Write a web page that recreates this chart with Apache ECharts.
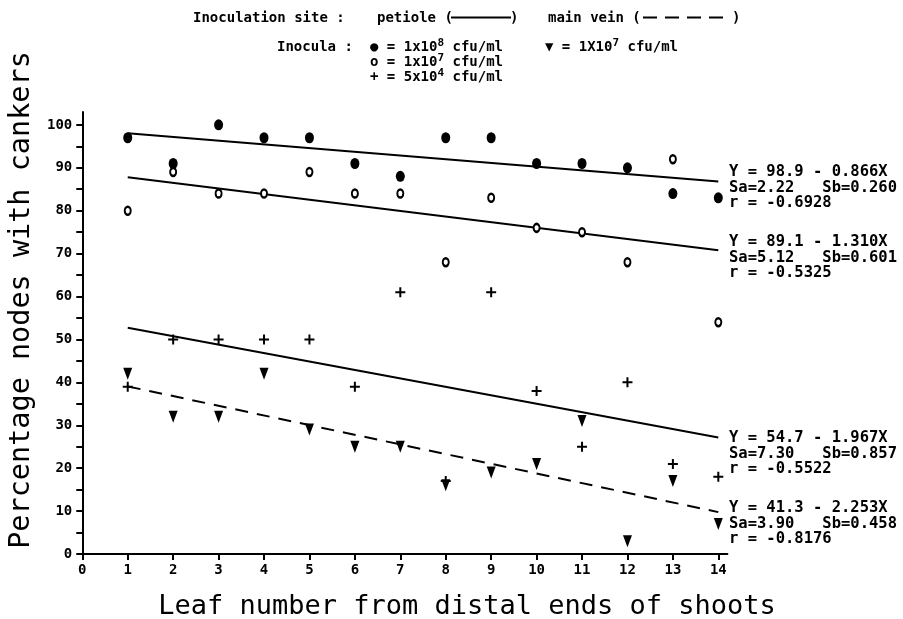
<!DOCTYPE html>
<html>
<head>
<meta charset="utf-8">
<script src="https://cdn.jsdelivr.net/npm/echarts@6/dist/echarts.min.js"></script>
<style>
html,body{margin:0;padding:0;background:#fff;}
#main{width:903px;height:619px;}
</style>
</head>
<body>
<div id="main"></div>
<script>
// ---- data ----
var leafNumbers = [1,2,3,4,5,6,7,8,9,10,11,12,13,14];
var petiole1e8 = [97,91,100,97,97,91,88,97,97,91,91,90,84,83];
var petiole1e7 = [80,89,84,84,89,84,84,68,83,76,75,68,92,54];
var petiole5e4 = [39,50,50,50,50,39,61,17,61,38,25,40,21,18];
var mainVein1e7 = [42,32,32,42,29,25,25,16,19,21,31,3,17,7];
// regression: [intercept, slope]
var fit1e8 = [98.9, -0.866];
var fit1e7 = [89.1, -1.310];
var fit5e4 = [54.7, -1.967];
var fitVein = [41.3, -2.253];
var fitText = [
  ['Y = 98.9 - 0.866X', 'Sa=2.22   Sb=0.260', 'r = -0.6928'],
  ['Y = 89.1 - 1.310X', 'Sa=5.12   Sb=0.601', 'r = -0.5325'],
  ['Y = 54.7 - 1.967X', 'Sa=7.30   Sb=0.857', 'r = -0.5522'],
  ['Y = 41.3 - 2.253X', 'Sa=3.90   Sb=0.458', 'r = -0.8176']
];
var xTicks = [0,1,2,3,4,5,6,7,8,9,10,11,12,13,14];
var yLabelTicks = [0,10,20,30,40,50,60,70,80,90,100];
var yMinorTicks = [0,5,10,15,20,25,30,35,40,45,50,55,60,65,70,75,80,85,90,95,100];

var MONO = "'DejaVu Sans Mono', monospace";

function pts(vals){ return leafNumbers.map(function(x,i){ return [x, vals[i]]; }); }
function fitLine(c){ var a = leafNumbers[0], b = leafNumbers[leafNumbers.length-1]; return [[a, c[0]+c[1]*a],[b, c[0]+c[1]*b]]; }

var chart = echarts.init(document.getElementById('main'));

var xBase = {
  type:'value', min:0, max:14.2, gridIndex:0,
  axisLine:{show:true, lineStyle:{color:'#000', width:2}},
  splitLine:{show:false}
};
var yBase = {
  type:'value', min:0, max:103, gridIndex:0,
  axisLine:{show:true, lineStyle:{color:'#000', width:2}},
  splitLine:{show:false}
};

var plusPath = 'path://M4,0h2v4h4v2h-4v4h-2v-4h-4v-2h4z';

function scatter(name, vals, symbol, size, style, rot){
  return {type:'scatter', name:name, data:pts(vals), symbol:symbol, symbolSize:size, symbolRotate:rot||0,
    itemStyle:Object.assign({opacity:1}, style), silent:true, z:5};
}

var option = {
  animation:false,
  backgroundColor:'#fff',
  grid:{left:82.3, right:175.6, top:112, bottom:65, containLabel:false},
  xAxis:[
    Object.assign({}, xBase, {
      axisTick:{show:true, inside:false, length:6, lineStyle:{color:'#000', width:2}, customValues:xTicks},
      axisLabel:{show:true, color:'#000', fontFamily:MONO, fontWeight:'bold', fontSize:14, margin:9,
        customValues:xTicks, formatter:function(v){ return (Math.abs(v-Math.round(v))<1e-6 && v<=14) ? String(v) : ''; }}
    }),
    Object.assign({}, xBase, {
      axisLine:{show:false},
      axisTick:{show:true, inside:true, length:6, lineStyle:{color:'#000', width:2}, customValues:xTicks.slice(1)},
      axisLabel:{show:false}
    })
  ],
  yAxis:[
    Object.assign({}, yBase, {
      axisTick:{show:true, inside:false, length:6, lineStyle:{color:'#000', width:2}, customValues:yMinorTicks},
      axisLabel:{show:true, color:'#000', fontFamily:MONO, fontWeight:'bold', fontSize:14, margin:10,
        customValues:yLabelTicks, formatter:function(v){ return (v%10===0 && v<=100) ? String(v) : ''; }}
    }),
    Object.assign({}, yBase, {
      axisLine:{show:false},
      axisTick:{show:true, inside:true, length:5, lineStyle:{color:'#000', width:2}, customValues:yMinorTicks.slice(1)},
      axisLabel:{show:false}
    })
  ],
  series:[
    {type:'line', data:fitLine(fit1e8), symbol:'none', lineStyle:{color:'#000', width:2}, silent:true, z:3},
    {type:'line', data:fitLine(fit1e7), symbol:'none', lineStyle:{color:'#000', width:2}, silent:true, z:3},
    {type:'line', data:fitLine(fit5e4), symbol:'none', lineStyle:{color:'#000', width:2}, silent:true, z:3},
    {type:'line', data:fitLine(fitVein), symbol:'none', lineStyle:{color:'#000', width:2, type:[13,9]}, silent:true, z:3},
    scatter('1x10^8', petiole1e8, 'circle', [9,11], {color:'#000'}),
    scatter('1x10^7', petiole1e7, 'circle', [6,8], {color:'#fff', borderColor:'#000', borderWidth:2.2}),
    scatter('5x10^4', petiole5e4, plusPath, [10,10], {color:'#000'}),
    scatter('vein', mainVein1e7, 'triangle', [9,12], {color:'#000'}, 180)
  ],
  graphic:[]
};

var g = option.graphic;
function txt(x, y, text, size, weight, extra){
  var o = {type:'text', left:x, top:y, silent:true,
    style:Object.assign({text:text, fill:'#000', font:(weight||'bold')+' '+size+'px '+MONO}, extra||{})};
  g.push(o);
  return o;
}
// axis titles
g.push({type:'text', x:467, y:607, silent:true,
  style:{text:'Leaf number from distal ends of shoots', fill:'#000', font:'normal 27px '+MONO, textAlign:'center', textVerticalAlign:'middle'}});
g.push({type:'text', x:22, y:300, rotation:Math.PI/2, silent:true,
  style:{text:'Percentage nodes with cankers', fill:'#000', font:'normal 28.5px '+MONO, textAlign:'center', textVerticalAlign:'middle'}});

// legend header
txt(193, 11, 'Inoculation site :', 14);
txt(377, 11, 'petiole (', 14);
g.push({type:'line', silent:true, shape:{x1:451, y1:17.5, x2:511, y2:17.5}, style:{stroke:'#000', lineWidth:2}});
txt(510, 11, ')', 14);
txt(548, 11, 'main vein (', 14);
g.push({type:'line', silent:true, shape:{x1:643, y1:17.5, x2:731, y2:17.5}, style:{stroke:'#000', lineWidth:2, lineDash:[14,8]}});
txt(732, 11, ')', 14);
txt(277, 40, 'Inocula :', 14);

function supLine(x, y, sym, base, exp, rest){
  g.push({type:'text', left:x, top:y, silent:true, style:{
    text:'{a|'+sym+' = '+base+'}{s|'+exp+'}{a| '+rest+'}',
    rich:{
      a:{font:'bold 14px '+MONO, fill:'#000', verticalAlign:'bottom', lineHeight:16},
      s:{font:'bold 11px '+MONO, fill:'#000', verticalAlign:'top', lineHeight:16, padding:[0,0,6,0]}
    }
  }});
}
supLine(370, 38, '\u25CF', '1x10', '8', 'cfu/ml');
supLine(370, 53, 'o', '1x10', '7', 'cfu/ml');
supLine(370, 68, '+', '5x10', '4', 'cfu/ml');
supLine(545, 38, '\u25BC', '1X10', '7', 'cfu/ml');

// regression annotations
var blockTops = [164, 234, 430, 500];
fitText.forEach(function(lines, k){
  lines.forEach(function(s, j){
    txt(729, blockTops[k] + j*15.5, s, 15.5);
  });
});

chart.setOption(option);
</script>
</body>
</html>
